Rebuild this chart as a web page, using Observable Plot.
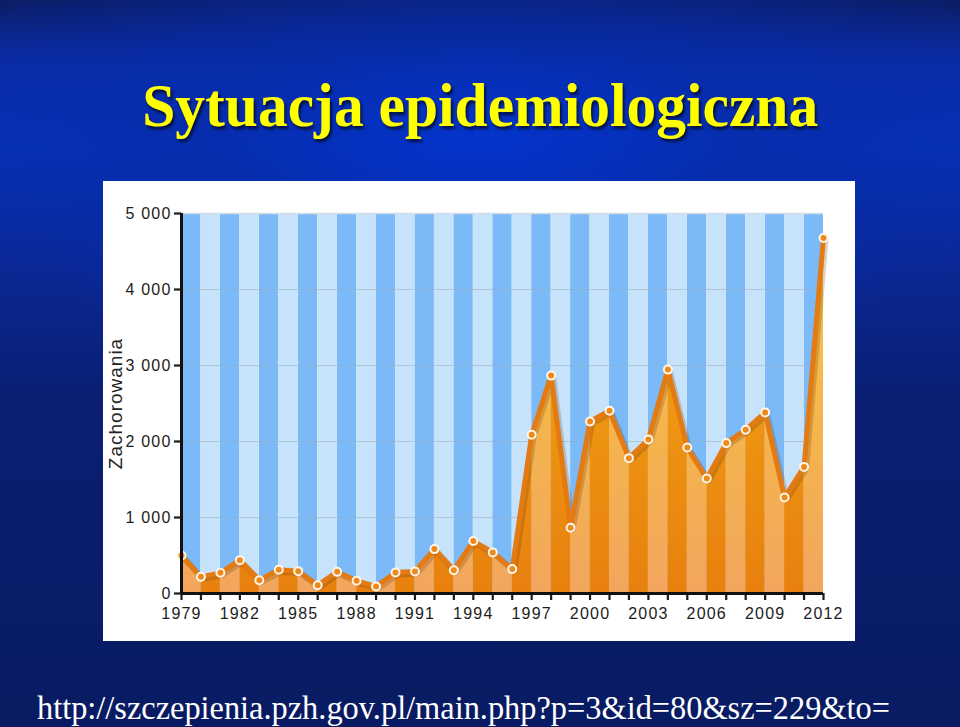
<!DOCTYPE html>
<html>
<head>
<meta charset="utf-8">
<script src="https://cdn.jsdelivr.net/npm/d3@7"></script>
<script src="https://cdn.jsdelivr.net/npm/@observablehq/plot@0.6"></script>
<style>
html, body { margin: 0; padding: 0; }
body {
  width: 960px; height: 727px; overflow: hidden; position: relative;
  background:
    radial-gradient(ellipse 62% 30% at 50% 19%, rgba(4,52,205,0.95) 0%, rgba(6,44,170,0.7) 45%, rgba(6,40,150,0) 100%),
    linear-gradient(to bottom, #0b1d66 0%, #0a2ca8 9%, #0730b8 20%, #0a2896 36%, #0a1f72 55%, #081b62 100%);
}
#title {
  position: absolute; left: 0; top: 74px; width: 960px; text-align: center;
  font-family: "Liberation Serif", "Times New Roman", serif; font-weight: bold;
  font-size: 62px; line-height: 62px; color: #ffff00;
  text-shadow: 2px 3px 3px rgba(0,0,0,0.65);
  white-space: nowrap;
}
#title span { display: inline-block; transform-origin: center; }
#panel { position: absolute; left: 103px; top: 181px; width: 752px; height: 460px; background: #ffffff; }
#panel svg { display: block; }
#url {
  position: absolute; left: 37px; top: 692px; white-space: nowrap;
  font-family: "Liberation Serif", "Times New Roman", serif;
  font-size: 33px; line-height: 33px; color: #ffffff; transform-origin: left top;
}
#panel [aria-label*="axis"] text { letter-spacing: 1.2px; font-size: 16px; fill: #1c1c1c; }
#panel [aria-label*="axis"] line,
#panel [aria-label*="axis"] path { stroke-width: 2.2px; }
</style>
</head>
<body>
<div id="title"><span>Sytuacja epidemiologiczna</span></div>
<div id="panel"></div>
<div id="url">http://szczepienia.pzh.gov.pl/main.php?p=3&amp;id=80&amp;sz=229&amp;to=</div>
<script>
// ---- data ----
const years = [1979, 1980, 1981, 1982, 1983, 1984, 1985, 1986, 1987, 1988, 1989, 1990,
  1991, 1992, 1993, 1994, 1995, 1996, 1997, 1998, 1999, 2000, 2001, 2002, 2003, 2004,
  2005, 2006, 2007, 2008, 2009, 2010, 2011, 2012];
const cases = [500, 219, 272, 439, 175, 312, 294, 109, 285, 167, 92, 277,
  290, 584, 307, 690, 541, 321, 2088, 2867, 866, 2264, 2405, 1781, 2027, 2946,
  1921, 1512, 1979, 2154, 2383, 1262, 1666, 4678];
const xLabelYears = [1979, 1982, 1985, 1988, 1991, 1994, 1997, 2000, 2003, 2006, 2009, 2012];
const yTicks = [0, 1000, 2000, 3000, 4000, 5000];
const gridValues = [1000, 2000, 3000, 4000];
const yTitle = "Zachorowania";

// ---- derived tables ----
const data = years.map((y, i) => ({year: y, value: cases[i]}));
const stripes = years.slice(0, -1).map((y, i) => ({x1: y, x2: years[i + 1], odd: i % 2 === 1}));
const segs = [];
years.slice(0, -1).forEach((y, i) => {
  segs.push({seg: i, year: y, value: cases[i], odd: i % 2 === 1});
  segs.push({seg: i, year: years[i + 1], value: cases[i + 1], odd: i % 2 === 1});
});
const fmt = d3.formatLocale({thousands: " ", grouping: [3], decimal: ".", currency: ["", ""]}).format(",");

const chart = Plot.plot({
  width: 752, height: 460,
  marginLeft: 78, marginRight: 32, marginTop: 32, marginBottom: 48,
  style: {fontFamily: "'Liberation Sans', Arial, sans-serif", fontSize: "16px", color: "#1c1c1c", background: "transparent", overflow: "hidden"},
  x: {domain: [1979, 2012], ticks: years, tickFormat: d => xLabelYears.includes(d) ? String(d) : "", tickSize: 7, tickPadding: 7, label: null},
  y: {domain: [0, 5000], ticks: yTicks, tickFormat: fmt, tickSize: 7, tickPadding: 3, label: null},
  marks: [
    Plot.rect(stripes, {filter: d => !d.odd, x1: "x1", x2: "x2", y1: 0, y2: 5000, fill: "#7bb9f7"}),
    Plot.rect(stripes, {filter: d => d.odd, x1: "x1", x2: "x2", y1: 0, y2: 5000, fill: "#c7e2fb"}),
    Plot.ruleY(gridValues, {stroke: "#9aaebf", strokeOpacity: 0.55, strokeWidth: 1}),
    Plot.ruleY([5000], {stroke: "#d4dde6", strokeWidth: 1.5}),
    Plot.areaY(segs, {filter: d => !d.odd, x: "year", y: "value", z: "seg", fill: "url(#gLight)"}),
    Plot.areaY(segs, {filter: d => d.odd, x: "year", y: "value", z: "seg", fill: "url(#gDark)"}),
    Plot.line(data, {x: "year", y: "value", stroke: "#4a2a08", strokeOpacity: 0.2, strokeWidth: 6, dx: 2, dy: 2}),
    Plot.line(data, {x: "year", y: "value", stroke: "#e37a12", strokeWidth: 5, strokeLinejoin: "round"}),
    Plot.dot(data, {x: "year", y: "value", r: 4, fill: "#ee8a1c", stroke: "#fff6ea", strokeWidth: 2}),
    Plot.ruleY([0], {stroke: "#111", strokeWidth: 3}),
    Plot.ruleX([1979], {stroke: "#111", strokeWidth: 3}),
    Plot.text([yTitle], {text: d => d, frameAnchor: "left", dx: -66, rotate: -90, fontSize: 19, fill: "#222", textAnchor: "middle", lineAnchor: "middle"})
  ]
});

const svg = chart.tagName.toLowerCase() === "svg" ? chart : chart.querySelector("svg");
const ns = "http://www.w3.org/2000/svg";
const defs = document.createElementNS(ns, "defs");
defs.innerHTML =
  '<linearGradient id="gLight" gradientUnits="userSpaceOnUse" x1="0" y1="32" x2="0" y2="412">' +
  '<stop offset="0" stop-color="#f8c640"/><stop offset="0.55" stop-color="#f5b54c"/><stop offset="1" stop-color="#f2a65e"/></linearGradient>' +
  '<linearGradient id="gDark" gradientUnits="userSpaceOnUse" x1="0" y1="32" x2="0" y2="412">' +
  '<stop offset="0" stop-color="#f2a618"/><stop offset="0.55" stop-color="#ee9412"/><stop offset="1" stop-color="#e8800e"/></linearGradient>';
svg.insertBefore(defs, svg.firstChild);
svg.querySelectorAll('[aria-label="text"] text').forEach(el => el.style.letterSpacing = "1px");
document.getElementById("panel").appendChild(chart);

// fit title and url widths to the slide
const t = document.querySelector("#title span");
const tw = t.getBoundingClientRect().width;
t.style.transform = `scaleX(${676 / tw})`;
const u = document.getElementById("url");
const uw = u.getBoundingClientRect().width;
u.style.transform = `scaleX(${853 / uw})`;
</script>
</body>
</html>
